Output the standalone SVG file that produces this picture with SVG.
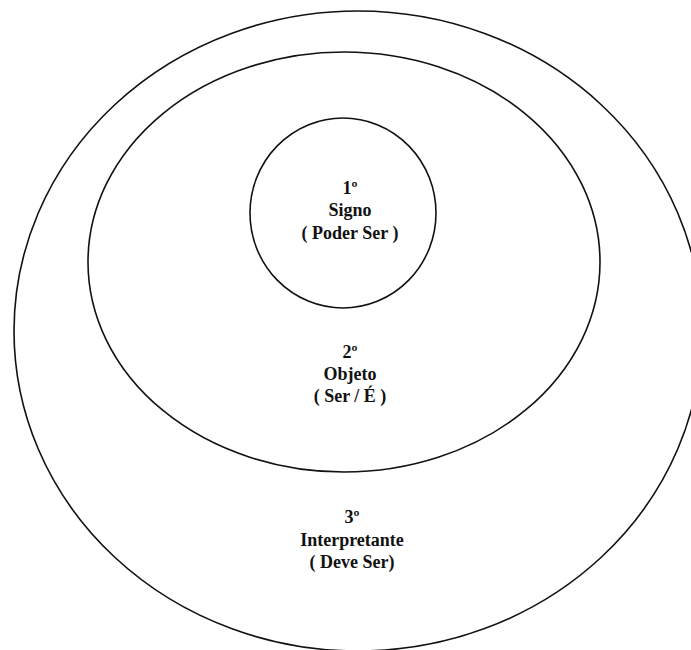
<svg xmlns="http://www.w3.org/2000/svg" width="691" height="650" viewBox="0 0 691 650">
<style>
.ring{fill:none;stroke:#111;stroke-width:1.6}
.t{font-family:"Liberation Serif","Times New Roman",serif;font-weight:bold;font-size:18px;fill:#111;text-anchor:middle}
</style>
<rect width="691" height="650" fill="#fff"/>
<g id="node-interpretante">
<ellipse class="ring" cx="358" cy="331" rx="344" ry="320"/>
<text class="t" x="352" y="523">3º</text>
<text class="t" x="352" y="546">Interpretante</text>
<text class="t" x="352" y="568">( Deve Ser)</text>
</g>
<g id="node-objeto">
<ellipse class="ring" cx="344" cy="262" rx="256" ry="210"/>
<text class="t" x="350" y="358">2º</text>
<text class="t" x="350" y="380">Objeto</text>
<text class="t" x="350" y="402">( Ser / É )</text>
</g>
<g id="node-signo">
<ellipse class="ring" cx="343" cy="213" rx="93" ry="95"/>
<text class="t" x="350" y="194">1º</text>
<text class="t" x="350" y="216">Signo</text>
<text class="t" x="350" y="239">( Poder Ser )</text>
</g>
<g id="connectors"></g>
</svg>
